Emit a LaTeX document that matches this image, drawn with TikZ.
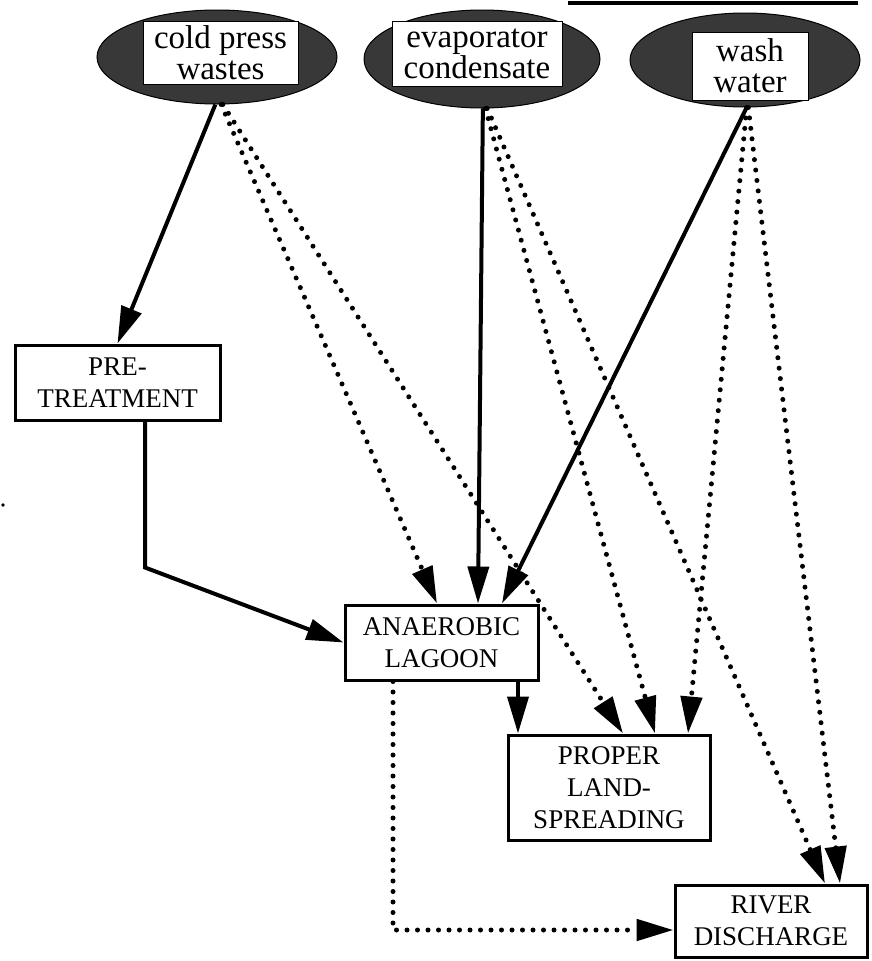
\documentclass[tikz,border=0pt]{standalone}
\usepackage{fontspec}
\setmainfont{Liberation Serif}
\usetikzlibrary{shapes.geometric,arrows.meta,calc}
\begin{document}
\begin{tikzpicture}[x=1pt,y=-1pt,
  source/.style={ellipse, fill=black!78, draw=black, line width=1pt, inner sep=0pt},
  srclabel/.style={fill=white, draw=black, line width=0.6pt, inner sep=0pt, align=center,
    font=\fontsize{33}{31}\selectfont},
  stage/.style={draw=black, line width=3pt, fill=white, inner sep=0pt, align=center,
    font=\fontsize{27}{32}\selectfont},
  flow/.style={line width=4pt, -{Triangle[length=37pt,width=21pt]}},
  dotflow/.style={line width=5pt, dash pattern=on 0pt off 10.5pt, line cap=round,
    -{Triangle[length=37pt,width=21pt]}},
]
\useasboundingbox (0,0) rectangle (871,961);

% waste sources
\node[source, minimum width=240pt, minimum height=94pt] (cp) at (217,57) {};
\node[srclabel, minimum width=155pt, minimum height=63pt] (cpl) at (220.5,52.5) {cold press\\wastes};
\node[source, minimum width=236pt, minimum height=98pt] (ev) at (482,59) {};
\node[srclabel, minimum width=170pt, minimum height=65pt] (evl) at (477,53.5) {evaporator\\condensate};
\node[source, minimum width=230pt, minimum height=94pt] (ww) at (745,60) {};
\node[srclabel, minimum width=116pt, minimum height=68pt] (wwl) at (750,66) {wash\\water};

% treatment and disposal stages
\node[stage, minimum width=205pt, minimum height=75pt] (pre) at (117.5,382.5) {PRE-\\TREATMENT};
\node[stage, minimum width=193pt, minimum height=75pt] (lag) at (441.5,642.5) {ANAEROBIC\\LAGOON};
\node[stage, minimum width=202pt, minimum height=105pt] (prop) at (609,787.5) {PROPER\\LAND-\\SPREADING};
\node[stage, minimum width=192pt, minimum height=72pt] (riv) at (771,921) {RIVER\\DISCHARGE};

% main flows
\draw[flow] (cp.-92) -- (pre.north);
\draw[flow] ([xshift=27.5pt]pre.south) -- ++(0,146) -- (lag.west);
\draw[flow] (ev.-89) -- ([xshift=36.5pt]lag.north);
\draw[flow] (ww.-88) -- ([xshift=60.5pt]lag.north);
\draw[flow] ([xshift=76.5pt]lag.south) -- ([xshift=76.5pt]lag.south |- prop.north);

% alternative flows
\draw[dotflow] (cp.-85) -- ([xshift=-4.5pt]lag.north);
\draw[dotflow] (cp.-83) -- ([xshift=14pt]prop.north);
\draw[dotflow] (ev.-86) -- ([xshift=46pt]prop.north);
\draw[dotflow] (ev.-84) -- ([xshift=54pt]riv.north);
\draw[dotflow] (ww.-88) -- ([xshift=79pt]prop.north);
\draw[dotflow] (ww.-86) -- ([xshift=69pt]riv.north);
\draw[dotflow] ([xshift=-48.5pt]lag.south) |- ([yshift=-9pt]riv.west);

% rule at the top edge and a stray mark
\draw[line width=4pt] (568,3) -- (858,3);
\fill (3,505) circle (1.8pt);
\end{tikzpicture}
\end{document}
